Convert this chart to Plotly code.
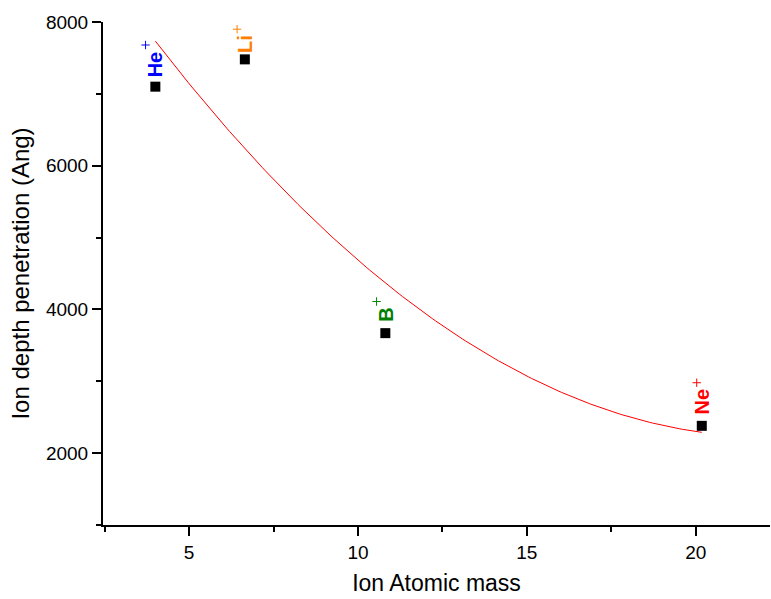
import numpy as np
import plotly.graph_objects as go

# ---- data ----
elements = ["He", "Li", "B", "Ne"]
atomic_mass = [4.0, 6.65, 10.81, 20.18]
depth = [7100, 7480, 3670, 2380]
label_colors = ["#0000FF", "#FF8000", "#008000", "#FF0000"]
plus_x = [3.71, 6.42, 10.55, 20.03]
plus_y = [7680, 7900, 4110, 2980]

x_ticks = [5, 10, 15, 20]
y_ticks = [2000, 4000, 6000, 8000]

# quadratic (polynomial) fit of the data, as in the original
coef = np.polyfit(atomic_mass, depth, 2)
fit_x = np.linspace(min(atomic_mass), max(atomic_mass), 200)
fit_y = np.polyval(coef, fit_x)

FONT = "Arial, Liberation Sans, sans-serif"

fig = go.Figure()
fig.add_trace(go.Scatter(x=fit_x, y=fit_y, mode="lines",
                         line=dict(color="#FF0000", width=1), showlegend=False,
                         hoverinfo="skip"))
fig.add_trace(go.Scatter(x=atomic_mass, y=depth, mode="markers",
                         marker=dict(symbol="square", size=10, color="black"),
                         showlegend=False))
fig.add_trace(go.Scatter(x=plus_x, y=plus_y, mode="markers",
                         marker=dict(symbol="cross-thin", size=6,
                                     line=dict(color=label_colors, width=1)),
                         showlegend=False))

for name, mx, py, col in zip(elements, atomic_mass, plus_y, label_colors):
    fig.add_annotation(x=mx, y=py, text=f"<b>{name}</b>", textangle=-90,
                       showarrow=False, xanchor="center", yanchor="top",
                       yshift=-5, borderpad=0,
                       font=dict(family=FONT, size=20, color=col))

fig.update_layout(
    width=771, height=599,
    margin=dict(l=103, r=1, t=22, b=74),
    paper_bgcolor="white", plot_bgcolor="white",
    font=dict(family=FONT, size=19, color="black"),
    xaxis=dict(range=[2.45, 22.2], tickvals=x_ticks, ticks="outside",
               ticklen=9, tickwidth=1.5, tickcolor="black",
               showline=True, linecolor="black", linewidth=2,
               showgrid=False, zeroline=False,
               minor=dict(dtick=2.5, tick0=0, ticks="outside", ticklen=5,
                          tickcolor="black", tickwidth=1.5, showgrid=False),
               title=dict(text="Ion Atomic mass", font=dict(size=23), standoff=13),
               tickfont=dict(size=19)),
    yaxis=dict(range=[1000, 8000], tickvals=y_ticks, ticks="outside",
               ticklen=9, tickwidth=1.5, tickcolor="black",
               showline=True, linecolor="black", linewidth=2,
               showgrid=False, zeroline=False,
               minor=dict(dtick=1000, tick0=0, ticks="outside", ticklen=5,
                          tickcolor="black", tickwidth=1.5, showgrid=False),
               title=dict(text="Ion depth penetration (Ang)", font=dict(size=24), standoff=10),
               tickfont=dict(size=19)),
)

fig.write_html("out.html")
